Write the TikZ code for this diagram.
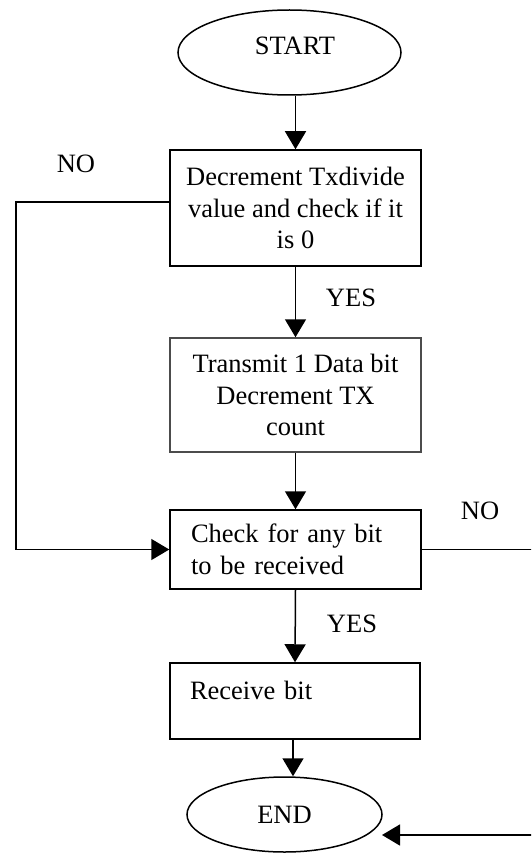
\documentclass[tikz,border=0pt]{standalone}
\usepackage{fontspec}
\setmainfont{Liberation Serif}
\usetikzlibrary{shapes.geometric,arrows.meta}
\tikzset{
  every node/.style={font=\fontsize{26.5}{31.5}\selectfont},
  oval/.style={draw=black, line width=1.5pt, ellipse, inner sep=0pt},
  stepbox/.style={draw=black, line width=1.5pt, rectangle, minimum width=251pt, align=center, inner sep=0pt},
  lbl/.style={inner sep=0pt},
  arr/.style={line width=1.5pt, -{Triangle[width=21pt,length=18pt]}},
  plainline/.style={line width=1.5pt}
}
\begin{document}
\begin{tikzpicture}[x=1pt,y=-1pt]
\useasboundingbox (0,0) rectangle (531,853);
\clip (0,0) rectangle (531,853);
\node[oval, minimum width=223pt, minimum height=85pt, text height=18pt, text depth=14pt] (start) at (289.5,52.5) {\hspace*{11pt}START};
\node[stepbox, minimum height=116pt] (b1) at (295.5,208) {Decrement Txdivide\\value and check if it\\is 0};
\node[stepbox, draw=black!70, minimum height=114pt] (b2) at (295.5,395) {Transmit 1 Data bit\\Decrement TX\\count};
\node[stepbox, minimum height=79pt, text width=209pt, inner xsep=21pt, align=left] (b3) at (295.5,549.5) {Check for any bit\\to be received};
\node[stepbox, minimum width=250pt, text width=210pt, inner xsep=20pt, align=left, text height=36pt, text depth=40pt] (b4) at (295,701) {Receive bit};
\node[oval, minimum width=195pt, minimum height=75pt] (endn) at (284.5,814.5) {END};
\node[lbl] (no1) at (76,164) {NO};
\node[lbl] (yes1) at (351,298) {YES};
\node[lbl] (no2) at (480,511) {NO};
\node[lbl] (yes2) at (352,624) {YES};
\coordinate (lft) at (16,0);
\coordinate (rgt) at (534,0);
\coordinate (endin) at (382,835);
\draw[arr] (b1.north |- start.south) -- (b1.north);
\draw[arr] (b1.south) -- (b2.north);
\draw[arr] (b2.south) -- (b3.north);
\draw[arr] (b3.south) -- (b4.north);
\draw[arr] ([xshift=-2pt]b4.south) -- ([xshift=-2pt]b4.south |- endn.north);
\draw[arr] ([yshift=6pt]b1.west) -| (lft |- b3.west) -- (b3.west);
\draw[arr] (b3.east) -- (rgt |- b3.east) -- (rgt |- endin) -- (endin);
\end{tikzpicture}
\end{document}
